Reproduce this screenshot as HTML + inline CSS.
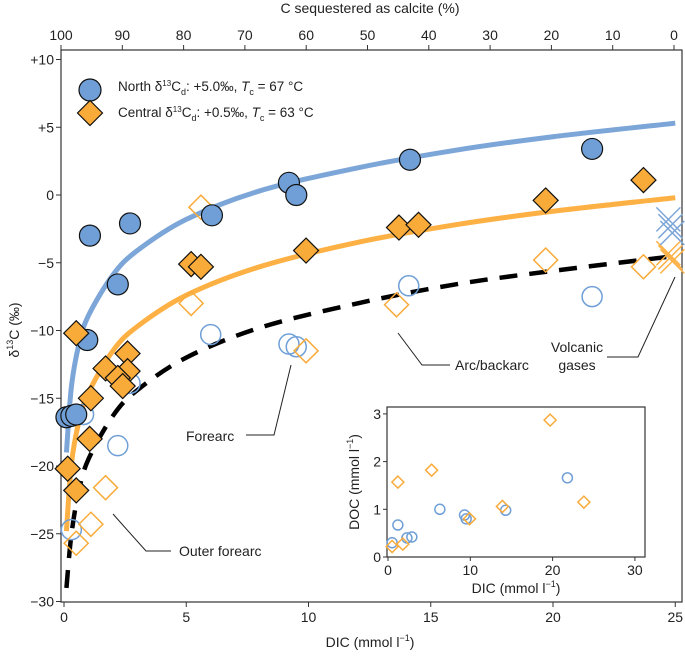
<!DOCTYPE html>
<html><head><meta charset="utf-8"><style>
body{margin:0;background:#fff;font-family:"Liberation Sans",sans-serif;}
svg text{font-family:"Liberation Sans",sans-serif;fill:#222;}
</style></head><body>
<svg id="c" width="685" height="656" viewBox="0 0 685 656"></svg>
<script>
const northFilledX=[0.1,0.3,0.5,1.06,2.7,2.2,0.95,6.05,9.2,9.5,14.15,21.6];
const northFilledY=[-16.4,-16.3,-16.2,-3.0,-2.1,-6.6,-10.7,-1.5,0.9,0.0,2.6,3.4];
const northOpenX=[0.8,2.7,2.2,6.0,9.2,9.5,14.1,21.6,0.3];
const northOpenY=[-16.2,-13.9,-18.5,-10.3,-11.0,-11.2,-6.7,-7.5,-24.7];
const centralFilledX=[0.5,2.6,1.7,2.6,2.2,2.4,1.1,1.05,0.15,0.5,5.2,5.6,9.9,13.7,14.5,19.7,23.7];
const centralFilledY=[-10.2,-11.7,-12.8,-13.0,-13.5,-14.1,-15.0,-18.0,-20.2,-21.8,-5.1,-5.3,-4.1,-2.4,-2.2,-0.4,1.1];
const centralOpenX=[5.6,5.2,13.6,19.7,23.7,9.9,1.7,1.1,0.5];
const centralOpenY=[-0.9,-8.0,-8.1,-4.8,-5.3,-11.5,-21.6,-24.3,-25.7];
const gasX=[24.8,24.8,24.8];
const gasNorthY=[-1.8,-2.3,-2.8];
const gasCentralY=[-4.3,-4.6,-4.9];
const curveX=[0.1,0.3,0.6,1,2,3,5,8,12,16,20,25];
const curveNorth=[-19.0,-14.2,-11.1,-8.9,-5.9,-4.1,-1.8,0.3,2.0,3.3,4.3,5.3];
const curveCentral=[-24.8,-19.9,-16.8,-14.6,-11.5,-9.7,-7.4,-5.3,-3.5,-2.2,-1.2,-0.2];
const curveSeawaterX=[0.1,0.3,0.6,1,2,3,5,8,12,16,20,25];
const curveSeawater=[-29.0,-25.1,-21.9,-19.5,-16.3,-14.4,-12.0,-9.8,-8.0,-6.6,-5.6,-4.5];
const xTicks=[0,5,10,15,20,25];
const yTicks=[10,5,0,-5,-10,-15,-20,-25,-30];
const yTickLabels=["+10","+5","0","−5","−10","−15","−20","−25","−30"];
const topTicks=[100,90,80,70,60,50,40,30,20,10,0];
const insetOpenX=[0.5,1.2,2.3,2.9,6.3,9.3,9.5,14.3,21.8];
const insetOpenY=[0.3,0.67,0.4,0.42,1.0,0.88,0.8,0.98,1.66];
const insetDiaX=[0.5,1.2,1.8,5.3,9.9,13.9,19.7,23.8];
const insetDiaY=[0.22,1.57,0.27,1.82,0.8,1.06,2.87,1.15];
const insetXTicks=[0,10,20,30];
const insetYTicks=[0,1,2,3];

const BLUE="#6f9fd6",ORANGE="#f9ab3a",LBLUE="#7da6d8",LOR="#fdb144";
const svg=document.getElementById('c');const NS="http://www.w3.org/2000/svg";
function mk(t,a,p){const e=document.createElementNS(NS,t);for(const k in a)e.setAttribute(k,a[k]);(p||svg).appendChild(e);return e;}
const X=v=>64+v*24.45, Y=v=>195-v*13.55, T=v=>674-v*6.13;
const IX=v=>388+v*8.23, IY=v=>557-v*47.7;

let e;
e=mk('rect',{x:61,y:50,width:621,height:552,fill:'none',stroke:'#333','stroke-width':1.2});

xTicks.forEach(v=>{mk('line',{x1:X(v),x2:X(v),y1:602,y2:607,stroke:'#333'});
 e=mk('text',{x:X(v),y:622,'font-size':14,'text-anchor':'middle'});e.textContent=v;
 });
yTicks.forEach((v,i)=>{mk('line',{x1:56,x2:61,y1:Y(v),y2:Y(v),stroke:'#333'});
 e=mk('text',{x:54,y:Y(v)+5,'font-size':14,'text-anchor':'end'});e.textContent=yTickLabels[i];
 });
topTicks.forEach(v=>{mk('line',{x1:T(v),x2:T(v),y1:45,y2:50,stroke:'#333'});
 e=mk('text',{x:T(v),y:40,'font-size':14,'text-anchor':'middle'});e.textContent=v;
 });
e=mk('text',{x:370,y:13,'font-size':14,'text-anchor':'middle'});e.textContent='C sequestered as calcite (%)';

e=mk('text',{x:370,y:647,'font-size':14,'text-anchor':'middle'});e.innerHTML='DIC (mmol l<tspan font-size="9" dy="-6">−1</tspan><tspan dy="6">)</tspan>';

e=mk('text',{x:0,y:0,'font-size':14,'text-anchor':'middle',transform:'translate(19,330) rotate(-90)'});e.innerHTML='δ<tspan font-size="9" dy="-6">13</tspan><tspan dy="6">C (‰)</tspan>';


function path(xs,ys){return xs.map((x,i)=>(i?'L':'M')+X(x).toFixed(1)+' '+Y(ys[i]).toFixed(1)).join(' ');}
// smooth path via catmull-rom
function smooth(xs,ys){const p=xs.map((x,i)=>[X(x),Y(ys[i])]);let d='M'+p[0][0]+' '+p[0][1];
 for(let i=0;i<p.length-1;i++){const p0=p[i-1]||p[i],p1=p[i],p2=p[i+1],p3=p[i+2]||p2;
 d+=` C${p1[0]+(p2[0]-p0[0])/6} ${p1[1]+(p2[1]-p0[1])/6} ${p2[0]-(p3[0]-p1[0])/6} ${p2[1]-(p3[1]-p1[1])/6} ${p2[0]} ${p2[1]}`;}return d;}
e=mk('path',{d:smooth(curveX,curveNorth),fill:'none',stroke:LBLUE,'stroke-width':5});

e=mk('path',{d:smooth(curveX,curveCentral),fill:'none',stroke:LOR,'stroke-width':5});

e=mk('path',{d:smooth(curveSeawaterX,curveSeawater),fill:'none',stroke:'#000','stroke-width':4.5,'stroke-dasharray':'18 12'});


// annotation lines
[[[398,333],[422,365],[450,365]],[[675,277],[638,357],[607,357]],[[291,365],[274,435],[246,435]],[[113,514],[146,551],[171,551]]].forEach(pts=>{
 e=mk('polyline',{points:pts.map(p=>p.join(',')).join(' '),fill:'none',stroke:'#222','stroke-width':1});
 });
[['Arc/backarc',455,370,'start'],['Volcanic',577,352,'middle'],['gases',577,370,'middle'],['Forearc',186,441,'start'],['Outer forearc',179,556,'start']].forEach(a=>{
 e=mk('text',{x:a[1],y:a[2],'font-size':14,'text-anchor':a[3]});e.textContent=a[0];
 });

function circ(cx,cy,r,filled,col,p){return mk('circle',{cx,cy,r,fill:filled?col:'#fff','fill-opacity':filled?1:0,stroke:filled?'#111':col,'stroke-width':filled?1.2:1.5},p);}
function dia(cx,cy,r,filled,col,p){return mk('polygon',{points:`${cx},${cy-r} ${cx+r},${cy} ${cx},${cy+r} ${cx-r},${cy}`,fill:filled?col:'none',stroke:filled?'#111':col,'stroke-width':filled?1.2:1.5},p);}
northOpenX.forEach((x,i)=>{e=circ(X(x),Y(northOpenY[i]),10,false,BLUE);});
centralOpenX.forEach((x,i)=>{e=dia(X(x),Y(centralOpenY[i]),12,false,ORANGE);});
northFilledX.forEach((x,i)=>{e=circ(X(x),Y(northFilledY[i]),10.5,true,BLUE);});
centralFilledX.forEach((x,i)=>{e=dia(X(x),Y(centralFilledY[i]),12.5,true,ORANGE);});
function cross(cx,cy,col){const g=mk('g',{stroke:col,'stroke-width':1.5});mk('line',{x1:cx-12,y1:cy-12,x2:cx+12,y2:cy+12},g);mk('line',{x1:cx-12,y1:cy+12,x2:cx+12,y2:cy-12},g);return g;}
gasX.forEach((x,i)=>{e=cross(X(x)+(i-1)*2,Y(gasNorthY[i]),LBLUE);
 e=cross(X(x)+(i-1)*2,Y(gasCentralY[i]),LOR);});

// legend
e=circ(90,90,11,true,BLUE);
e=dia(90,113,12.5,true,ORANGE);
e=mk('text',{x:118,y:91,'font-size':13.5});e.innerHTML='North δ<tspan font-size="8" dy="-5">13</tspan><tspan dy="5">C</tspan><tspan font-size="9" dy="4">d</tspan><tspan dy="-4">: +5.0‰, </tspan><tspan font-style="italic">T</tspan><tspan font-size="9" dy="4">c</tspan><tspan dy="-4"> = 67 °C</tspan>';

e=mk('text',{x:118,y:117,'font-size':13.5});e.innerHTML='Central δ<tspan font-size="8" dy="-5">13</tspan><tspan dy="5">C</tspan><tspan font-size="9" dy="4">d</tspan><tspan dy="-4">: +0.5‰, </tspan><tspan font-style="italic">T</tspan><tspan font-size="9" dy="4">c</tspan><tspan dy="-4"> = 63 °C</tspan>';


// inset
const ig=mk('g',{});
mk('rect',{x:387,y:407,width:258,height:150,fill:'#fff',stroke:'#333','stroke-width':1.2},ig);
insetXTicks.forEach(v=>{mk('line',{x1:IX(v),x2:IX(v),y1:557,y2:561,stroke:'#333'},ig);
 e=mk('text',{x:IX(v),y:575,'font-size':14,'text-anchor':'middle'},ig);e.textContent=v;});
insetYTicks.forEach(v=>{mk('line',{x1:383,x2:387,y1:IY(v),y2:IY(v),stroke:'#333'},ig);
 e=mk('text',{x:381,y:IY(v)+5,'font-size':14,'text-anchor':'end'},ig);e.textContent=v;});
e=mk('text',{x:516,y:593,'font-size':14,'text-anchor':'middle'},ig);e.innerHTML='DIC (mmol l<tspan font-size="9" dy="-6">−1</tspan><tspan dy="6">)</tspan>';

e=mk('text',{x:0,y:0,'font-size':14,'text-anchor':'middle',transform:'translate(359,482) rotate(-90)'},ig);e.innerHTML='DOC (mmol l<tspan font-size="9" dy="-6">−1</tspan><tspan dy="6">)</tspan>';

insetOpenX.forEach((x,i)=>{e=circ(IX(x),IY(insetOpenY[i]),5,false,BLUE,ig);});
insetDiaX.forEach((x,i)=>{e=dia(IX(x),IY(insetDiaY[i]),6,false,ORANGE,ig);});
</script>
</body></html>
